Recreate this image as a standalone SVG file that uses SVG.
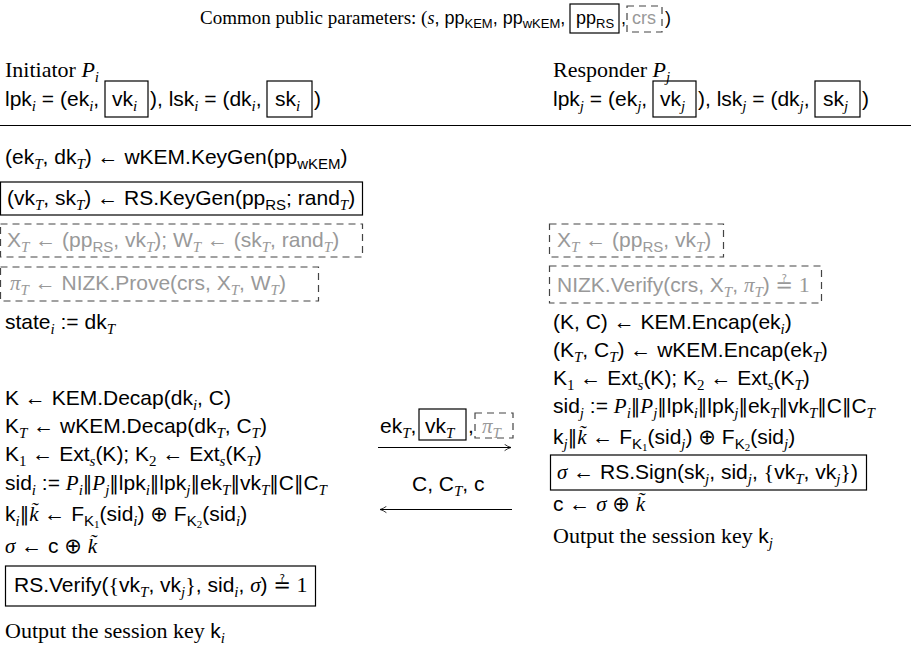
<svg xmlns="http://www.w3.org/2000/svg" width="911" height="650" viewBox="0 0 911 650">
<defs>
<style>
text{font-family:"Liberation Sans","DejaVu Sans",sans-serif;font-size:21px;fill:#000}
.rm{font-family:"Liberation Serif","DejaVu Serif",serif;font-size:22px}
.mi{font-family:"Liberation Serif","DejaVu Serif",serif;font-style:italic}
.sb{font-size:15px}
.ss{font-size:11px}
.gr{fill:#999}
.br{font-family:"DejaVu Sans",sans-serif;font-size:19px}
.qe{font-family:"DejaVu Sans",sans-serif;font-size:21px}
.top{font-size:18px}
.top .rm{font-size:19px}
.top .sb{font-size:13px}
.box{fill:none;stroke:#000;stroke-width:1.2}
.dbox{fill:none;stroke:#444;stroke-width:1.2;stroke-dasharray:7 5}
.ln{fill:none;stroke:#000;stroke-width:1}
</style>
<marker id="ah" viewBox="0 0 10 10" refX="9" refY="5" markerWidth="8" markerHeight="8" orient="auto-start-reverse" markerUnits="userSpaceOnUse">
<path d="M1,1 Q5,4 9,5 Q5,6 1,9" fill="none" stroke="#000" stroke-width="1"/>
</marker>
</defs>
<rect width="911" height="650" fill="#fff"/>

<g id="params">
<text x="200" y="24" class="top"><tspan class="rm">Common public parameters: (</tspan><tspan class="mi">s</tspan><tspan>, pp</tspan><tspan class="sb" dy="4">KEM</tspan><tspan dy="-4">, pp</tspan><tspan class="sb" dy="4">wKEM</tspan><tspan dy="-4">,</tspan></text>
<rect class="box" x="570" y="4" width="49" height="29"/>
<text x="576" y="24" class="top">pp<tspan class="sb" dy="4">RS</tspan></text>
<text x="621" y="24" class="top">,</text>
<rect class="dbox" x="627" y="6" width="35" height="26"/>
<text x="632" y="24" class="top gr">crs</text>
<text x="665" y="24" class="top">)</text>
</g>

<g id="initiator-header">
<text x="5" y="77"><tspan class="rm">Initiator </tspan><tspan class="mi rm">P</tspan><tspan class="mi sb" dy="5">i</tspan></text>
<text x="5" y="106">lpk<tspan class="mi sb" dy="5">i</tspan><tspan dy="-5"> = (ek</tspan><tspan class="mi sb" dy="5">i</tspan><tspan dy="-5">,</tspan></text>
<rect class="box" x="105" y="81" width="43" height="36"/>
<text x="112" y="106">vk<tspan class="mi sb" dy="5">i</tspan></text>
<text x="150" y="106">), lsk<tspan class="mi sb" dy="5">i</tspan><tspan dy="-5"> = (dk</tspan><tspan class="mi sb" dy="5">i</tspan><tspan dy="-5">,</tspan></text>
<rect class="box" x="267" y="81" width="45" height="36"/>
<text x="275" y="106">sk<tspan class="mi sb" dy="5">i</tspan></text>
<text x="314" y="106">)</text>
</g>

<g id="responder-header">
<text x="553" y="77"><tspan class="rm">Responder </tspan><tspan class="mi rm">P</tspan><tspan class="mi sb" dy="5">j</tspan></text>
<text x="553" y="106">lpk<tspan class="mi sb" dy="5">j</tspan><tspan dy="-5"> = (ek</tspan><tspan class="mi sb" dy="5">j</tspan><tspan dy="-5">,</tspan></text>
<rect class="box" x="653" y="81" width="43" height="36"/>
<text x="660" y="106">vk<tspan class="mi sb" dy="5">j</tspan></text>
<text x="698" y="106">), lsk<tspan class="mi sb" dy="5">j</tspan><tspan dy="-5"> = (dk</tspan><tspan class="mi sb" dy="5">j</tspan><tspan dy="-5">,</tspan></text>
<rect class="box" x="815" y="81" width="45" height="36"/>
<text x="823" y="106">sk<tspan class="mi sb" dy="5">j</tspan></text>
<text x="862" y="106">)</text>
</g>

<g id="init-keygen-wkem">
<text x="5" y="164">(ek<tspan class="mi sb" dy="5">T</tspan><tspan dy="-5">, dk</tspan><tspan class="mi sb" dy="5">T</tspan><tspan dy="-5">) ← wKEM.KeyGen(pp</tspan><tspan class="sb" dy="5">wKEM</tspan><tspan dy="-5">)</tspan></text>
</g>

<g id="init-keygen-rs">
<rect class="box" x="0.5" y="182" width="362" height="33"/>
<text x="7" y="205">(vk<tspan class="mi sb" dy="5">T</tspan><tspan dy="-5">, sk</tspan><tspan class="mi sb" dy="5">T</tspan><tspan dy="-5">) ← RS.KeyGen(pp</tspan><tspan class="sb" dy="5">RS</tspan><tspan dy="-5">; rand</tspan><tspan class="mi sb" dy="5">T</tspan><tspan dy="-5">)</tspan></text>
</g>

<g id="init-statement">
<rect class="dbox" x="0.5" y="224" width="362" height="33"/>
<text x="7" y="247" class="gr">X<tspan class="mi sb" dy="5">T</tspan><tspan dy="-5"> ← (pp</tspan><tspan class="sb" dy="5">RS</tspan><tspan dy="-5">, vk</tspan><tspan class="mi sb" dy="5">T</tspan><tspan dy="-5">); W</tspan><tspan class="mi sb" dy="5">T</tspan><tspan dy="-5"> ← (sk</tspan><tspan class="mi sb" dy="5">T</tspan><tspan dy="-5">, rand</tspan><tspan class="mi sb" dy="5">T</tspan><tspan dy="-5">)</tspan></text>
</g>

<g id="init-prove">
<rect class="dbox" x="0.5" y="267" width="318" height="34"/>
<text x="10" y="290" class="gr"><tspan class="mi">π</tspan><tspan class="mi sb" dy="5">T</tspan><tspan dy="-5"> ← NIZK.Prove(crs, X</tspan><tspan class="mi sb" dy="5">T</tspan><tspan dy="-5">, W</tspan><tspan class="mi sb" dy="5">T</tspan><tspan dy="-5">)</tspan></text>
</g>

<g id="init-state">
<text x="5" y="329">state<tspan class="mi sb" dy="5">i</tspan><tspan dy="-5"> := dk</tspan><tspan class="mi sb" dy="5">T</tspan></text>
</g>

<g id="init-decap">
<text x="5" y="405">K ← KEM.Decap(dk<tspan class="mi sb" dy="5">i</tspan><tspan dy="-5">, C)</tspan></text>
</g>

<g id="init-wdecap">
<text x="5" y="433">K<tspan class="mi sb" dy="5">T</tspan><tspan dy="-5"> ← wKEM.Decap(dk</tspan><tspan class="mi sb" dy="5">T</tspan><tspan dy="-5">, C</tspan><tspan class="mi sb" dy="5">T</tspan><tspan dy="-5">)</tspan></text>
</g>

<g id="init-ext">
<text x="5" y="461">K<tspan class="rm sb" dy="5">1</tspan><tspan dy="-5"> ← Ext</tspan><tspan class="mi sb" dy="5">s</tspan><tspan dy="-5">(K); K</tspan><tspan class="rm sb" dy="5">2</tspan><tspan dy="-5"> ← Ext</tspan><tspan class="mi sb" dy="5">s</tspan><tspan dy="-5">(K</tspan><tspan class="mi sb" dy="5">T</tspan><tspan dy="-5">)</tspan></text>
</g>

<g id="init-sid">
<text x="5" y="490">sid<tspan class="mi sb" dy="5">i</tspan><tspan dy="-5"> := </tspan><tspan class="mi">P</tspan><tspan class="mi sb" dy="5">i</tspan><tspan class="br" dy="-5">‖</tspan><tspan class="mi">P</tspan><tspan class="mi sb" dy="5">j</tspan><tspan class="br" dy="-5">‖</tspan><tspan>lpk</tspan><tspan class="mi sb" dy="5">i</tspan><tspan class="br" dy="-5">‖</tspan><tspan>lpk</tspan><tspan class="mi sb" dy="5">j</tspan><tspan class="br" dy="-5">‖</tspan><tspan>ek</tspan><tspan class="mi sb" dy="5">T</tspan><tspan class="br" dy="-5">‖</tspan><tspan>vk</tspan><tspan class="mi sb" dy="5">T</tspan><tspan class="br" dy="-5">‖</tspan><tspan>C</tspan><tspan class="br">‖</tspan><tspan>C</tspan><tspan class="mi sb" dy="5">T</tspan></text>
</g>

<g id="init-prf">
<text x="5" y="521">k<tspan class="mi sb" dy="5">i</tspan><tspan class="br" dy="-5">‖</tspan><tspan class="mi">k̃</tspan><tspan> ← F</tspan><tspan class="sb" dy="5">K</tspan><tspan class="rm ss" dy="2">1</tspan><tspan dy="-7">(sid</tspan><tspan class="mi sb" dy="5">i</tspan><tspan dy="-5">) ⊕ F</tspan><tspan class="sb" dy="5">K</tspan><tspan class="rm ss" dy="2">2</tspan><tspan dy="-7">(sid</tspan><tspan class="mi sb" dy="5">i</tspan><tspan dy="-5">)</tspan></text>
</g>

<g id="init-sigma">
<text x="5" y="553"><tspan class="mi">σ</tspan><tspan> ← c ⊕ </tspan><tspan class="mi">k̃</tspan></text>
</g>

<g id="init-verify">
<rect class="box" x="5.5" y="566" width="310" height="40"/>
<text x="14" y="592">RS.Verify(<tspan class="rm">{</tspan><tspan>vk</tspan><tspan class="mi sb" dy="5">T</tspan><tspan dy="-5">, vk</tspan><tspan class="mi sb" dy="5">j</tspan><tspan class="rm" dy="-5">}</tspan><tspan>, sid</tspan><tspan class="mi sb" dy="5">i</tspan><tspan dy="-5">, </tspan><tspan class="mi">σ</tspan><tspan>) </tspan><tspan class="qe">≟</tspan><tspan class="rm"> 1</tspan></text>
</g>

<g id="init-output">
<text x="5" y="638"><tspan class="rm">Output the session key </tspan><tspan>k</tspan><tspan class="mi sb" dy="5">i</tspan></text>
</g>

<g id="resp-statement">
<rect class="dbox" x="549.5" y="224" width="174" height="33"/>
<text x="557" y="247" class="gr">X<tspan class="mi sb" dy="5">T</tspan><tspan dy="-5"> ← (pp</tspan><tspan class="sb" dy="5">RS</tspan><tspan dy="-5">, vk</tspan><tspan class="mi sb" dy="5">T</tspan><tspan dy="-5">)</tspan></text>
</g>

<g id="resp-verify-proof">
<rect class="dbox" x="549.5" y="266" width="272" height="37"/>
<text x="557" y="292" class="gr">NIZK.Verify(crs, X<tspan class="mi sb" dy="5">T</tspan><tspan dy="-5">, </tspan><tspan class="mi">π</tspan><tspan class="mi sb" dy="5">T</tspan><tspan dy="-5">) </tspan><tspan class="qe">≟</tspan><tspan class="rm"> 1</tspan></text>
</g>

<g id="resp-encap">
<text x="553" y="329">(K, C) ← KEM.Encap(ek<tspan class="mi sb" dy="5">i</tspan><tspan dy="-5">)</tspan></text>
</g>

<g id="resp-wencap">
<text x="553" y="357">(K<tspan class="mi sb" dy="5">T</tspan><tspan dy="-5">, C</tspan><tspan class="mi sb" dy="5">T</tspan><tspan dy="-5">) ← wKEM.Encap(ek</tspan><tspan class="mi sb" dy="5">T</tspan><tspan dy="-5">)</tspan></text>
</g>

<g id="resp-ext">
<text x="553" y="385">K<tspan class="rm sb" dy="5">1</tspan><tspan dy="-5"> ← Ext</tspan><tspan class="mi sb" dy="5">s</tspan><tspan dy="-5">(K); K</tspan><tspan class="rm sb" dy="5">2</tspan><tspan dy="-5"> ← Ext</tspan><tspan class="mi sb" dy="5">s</tspan><tspan dy="-5">(K</tspan><tspan class="mi sb" dy="5">T</tspan><tspan dy="-5">)</tspan></text>
</g>

<g id="resp-sid">
<text x="553" y="413">sid<tspan class="mi sb" dy="5">j</tspan><tspan dy="-5"> := </tspan><tspan class="mi">P</tspan><tspan class="mi sb" dy="5">i</tspan><tspan class="br" dy="-5">‖</tspan><tspan class="mi">P</tspan><tspan class="mi sb" dy="5">j</tspan><tspan class="br" dy="-5">‖</tspan><tspan>lpk</tspan><tspan class="mi sb" dy="5">i</tspan><tspan class="br" dy="-5">‖</tspan><tspan>lpk</tspan><tspan class="mi sb" dy="5">j</tspan><tspan class="br" dy="-5">‖</tspan><tspan>ek</tspan><tspan class="mi sb" dy="5">T</tspan><tspan class="br" dy="-5">‖</tspan><tspan>vk</tspan><tspan class="mi sb" dy="5">T</tspan><tspan class="br" dy="-5">‖</tspan><tspan>C</tspan><tspan class="br">‖</tspan><tspan>C</tspan><tspan class="mi sb" dy="5">T</tspan></text>
</g>

<g id="resp-prf">
<text x="553" y="444">k<tspan class="mi sb" dy="5">j</tspan><tspan class="br" dy="-5">‖</tspan><tspan class="mi">k̃</tspan><tspan> ← F</tspan><tspan class="sb" dy="5">K</tspan><tspan class="rm ss" dy="2">1</tspan><tspan dy="-7">(sid</tspan><tspan class="mi sb" dy="5">j</tspan><tspan dy="-5">) ⊕ F</tspan><tspan class="sb" dy="5">K</tspan><tspan class="rm ss" dy="2">2</tspan><tspan dy="-7">(sid</tspan><tspan class="mi sb" dy="5">j</tspan><tspan dy="-5">)</tspan></text>
</g>

<g id="resp-sign">
<rect class="box" x="550.5" y="455" width="316" height="35"/>
<text x="557" y="479"><tspan class="mi">σ</tspan><tspan> ← RS.Sign(sk</tspan><tspan class="mi sb" dy="5">j</tspan><tspan dy="-5">, sid</tspan><tspan class="mi sb" dy="5">j</tspan><tspan dy="-5">, </tspan><tspan class="rm">{</tspan><tspan>vk</tspan><tspan class="mi sb" dy="5">T</tspan><tspan dy="-5">, vk</tspan><tspan class="mi sb" dy="5">j</tspan><tspan class="rm" dy="-5">}</tspan><tspan>)</tspan></text>
</g>

<g id="resp-mask">
<text x="553" y="511"><tspan>c ← </tspan><tspan class="mi">σ</tspan><tspan> ⊕ </tspan><tspan class="mi">k̃</tspan></text>
</g>

<g id="resp-output">
<text x="553" y="543"><tspan class="rm">Output the session key </tspan><tspan>k</tspan><tspan class="mi sb" dy="5">j</tspan></text>
</g>

<g id="connectors">
<line class="ln" x1="0" y1="125.5" x2="911" y2="125.5"/>
<line class="ln" x1="378" y1="447.5" x2="511" y2="447.5" marker-end="url(#ah)"/>
<line class="ln" x1="512" y1="509.5" x2="380" y2="509.5" marker-end="url(#ah)"/>
</g>

<g id="msg1-label">
<text x="380" y="433">ek<tspan class="mi sb" dy="5">T</tspan><tspan dy="-5">,</tspan></text>
<rect class="box" x="419" y="409" width="47" height="31"/>
<text x="425" y="433">vk<tspan class="mi sb" dy="5">T</tspan></text>
<text x="468" y="433">,</text>
<rect class="dbox" x="475" y="413" width="38" height="25"/>
<text x="482" y="433" class="gr"><tspan class="mi">π</tspan><tspan class="mi sb" dy="5">T</tspan></text>
</g>

<g id="msg2-label">
<text x="412" y="491">C, C<tspan class="mi sb" dy="5">T</tspan><tspan dy="-5">, c</tspan></text>
</g>
</svg>
